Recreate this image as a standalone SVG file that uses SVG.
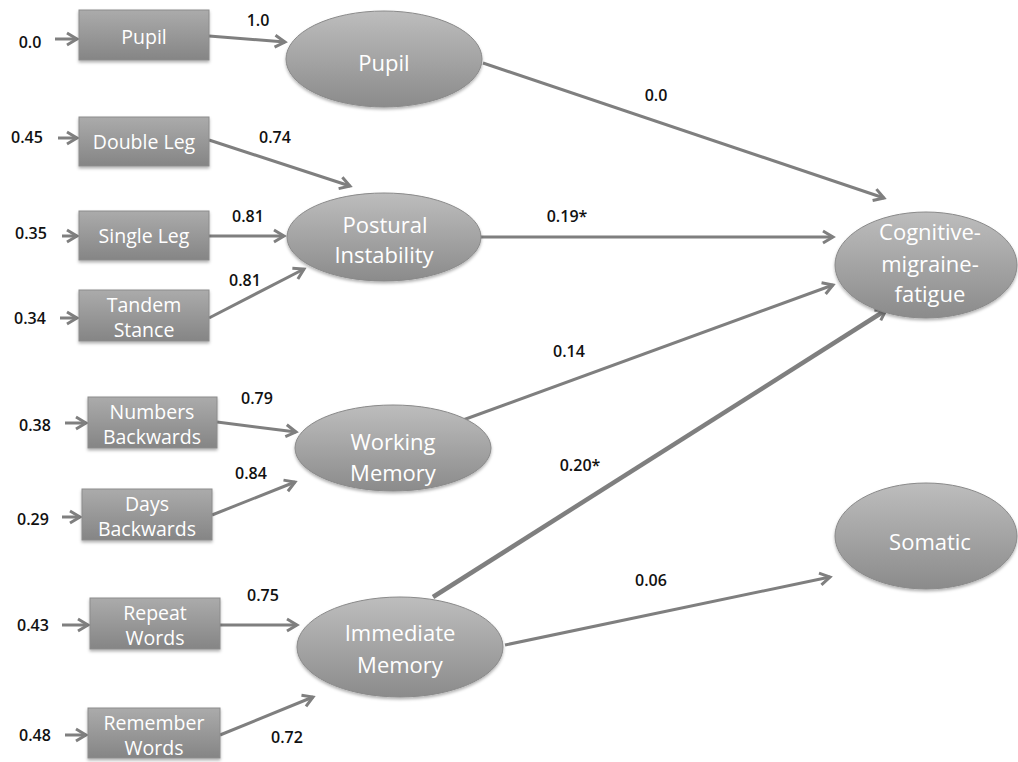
<svg xmlns="http://www.w3.org/2000/svg" width="1018" height="762" viewBox="0 0 1018 762">
<style>
.box{fill:url(#gb);stroke:#8c8c8c;stroke-width:1;filter:url(#sh)}
.ell{fill:url(#ge);stroke:#8a8a8a;stroke-width:1;filter:url(#sh)}
.bt{font-family:"Open Sans",sans-serif;font-size:19.5px;fill:#fff;text-anchor:middle}
.et{font-family:"Open Sans",sans-serif;font-size:22px;fill:#fff;text-anchor:middle}
.lb{font-family:"Open Sans",sans-serif;font-size:16px;fill:#111;text-anchor:middle;font-weight:600}
.c{stroke:#7f7f7f;stroke-width:3;fill:none;marker-end:url(#ah)}
</style>
<defs>
<linearGradient id="gb" x1="0" y1="0" x2="0" y2="1"><stop offset="0" stop-color="#ababab"/><stop offset="1" stop-color="#858585"/></linearGradient>
<linearGradient id="ge" x1="0" y1="0" x2="0" y2="1"><stop offset="0" stop-color="#bdbdbd"/><stop offset="1" stop-color="#8b8b8b"/></linearGradient>
<filter id="sh" x="-10%" y="-10%" width="120%" height="130%"><feDropShadow dx="0" dy="2" stdDeviation="1.5" flood-color="#000" flood-opacity="0.3"/></filter>
<marker id="ah" markerWidth="16" markerHeight="16" refX="13" refY="8" orient="auto" markerUnits="userSpaceOnUse"><path d="M3,2 L13,8 L3,14" fill="none" stroke="#7f7f7f" stroke-width="3" stroke-linejoin="miter"/></marker>
</defs>

<g id="connectors">
<line class="c" x1="55" y1="39" x2="77" y2="39"/>
<line class="c" x1="58" y1="138" x2="77" y2="138"/>
<line class="c" x1="62" y1="236" x2="77" y2="236"/>
<line class="c" x1="60" y1="318" x2="77" y2="318"/>
<line class="c" x1="65" y1="423" x2="86" y2="423"/>
<line class="c" x1="62" y1="517" x2="80" y2="517"/>
<line class="c" x1="62" y1="625" x2="88" y2="625"/>
<line class="c" x1="65" y1="735" x2="86" y2="735"/>

<line class="c" x1="209" y1="36" x2="285" y2="42"/>
<line class="c" x1="209" y1="140" x2="350" y2="186"/>
<line class="c" x1="209" y1="236" x2="284" y2="236"/>
<line class="c" x1="209" y1="318" x2="304" y2="269"/>
<line class="c" x1="217" y1="422" x2="296" y2="432"/>
<line class="c" x1="212" y1="515" x2="295" y2="482"/>
<line class="c" x1="220" y1="625" x2="297" y2="625"/>
<line class="c" x1="220" y1="735" x2="313" y2="697"/>

<line class="c" x1="483" y1="63" x2="884" y2="198"/>
<line class="c" x1="480" y1="237" x2="833" y2="237"/>
<line class="c" x1="463" y1="420" x2="833" y2="285"/>
<line class="c" x1="433" y1="597" x2="886" y2="310" style="stroke-width:4.5"/>
<line class="c" x1="505" y1="645" x2="830" y2="577"/>
</g>

<g id="labels">
<text class="lb" x="30" y="48">0.0</text>
<text class="lb" x="27" y="143">0.45</text>
<text class="lb" x="31" y="239">0.35</text>
<text class="lb" x="30" y="324">0.34</text>
<text class="lb" x="35" y="431">0.38</text>
<text class="lb" x="33" y="525">0.29</text>
<text class="lb" x="33" y="631">0.43</text>
<text class="lb" x="35" y="741">0.48</text>
<text class="lb" x="258" y="26">1.0</text>
<text class="lb" x="275" y="143">0.74</text>
<text class="lb" x="248" y="222">0.81</text>
<text class="lb" x="245" y="286">0.81</text>
<text class="lb" x="257" y="404">0.79</text>
<text class="lb" x="251" y="479">0.84</text>
<text class="lb" x="263" y="601">0.75</text>
<text class="lb" x="287" y="743">0.72</text>
<text class="lb" x="656" y="101">0.0</text>
<text class="lb" x="567" y="222">0.19*</text>
<text class="lb" x="569" y="357">0.14</text>
<text class="lb" x="580" y="471">0.20*</text>
<text class="lb" x="651" y="586">0.06</text>
</g>

<g id="box-pupil"><rect class="box" x="79" y="10" width="130" height="50"/><text class="bt" x="144" y="44">Pupil</text></g>
<g id="box-double-leg"><rect class="box" x="79" y="117" width="130" height="49"/><text class="bt" x="144" y="149">Double Leg</text></g>
<g id="box-single-leg"><rect class="box" x="79" y="211" width="130" height="49"/><text class="bt" x="144" y="243">Single Leg</text></g>
<g id="box-tandem"><rect class="box" x="79" y="290" width="130" height="51"/><text class="bt" x="144" y="312">Tandem</text><text class="bt" x="144" y="337">Stance</text></g>
<g id="box-numbers"><rect class="box" x="88" y="397" width="129" height="51"/><text class="bt" x="152" y="419">Numbers</text><text class="bt" x="152" y="444">Backwards</text></g>
<g id="box-days"><rect class="box" x="82" y="489" width="130" height="51"/><text class="bt" x="147" y="511">Days</text><text class="bt" x="147" y="536">Backwards</text></g>
<g id="box-repeat"><rect class="box" x="90" y="598" width="130" height="51"/><text class="bt" x="155" y="620">Repeat</text><text class="bt" x="155" y="645">Words</text></g>
<g id="box-remember"><rect class="box" x="88" y="708" width="132" height="50"/><text class="bt" x="154" y="730">Remember</text><text class="bt" x="154" y="755">Words</text></g>

<g id="ell-pupil"><ellipse class="ell" cx="384" cy="59" rx="98" ry="48"/><text class="et" x="384" y="71">Pupil</text></g>
<g id="ell-postural"><ellipse class="ell" cx="384" cy="237" rx="97" ry="44"/><text class="et" x="385" y="233">Postural</text><text class="et" x="384" y="263">Instability</text></g>
<g id="ell-cmf"><ellipse class="ell" cx="926" cy="265" rx="91" ry="53"/><text class="et" x="930" y="240">Cognitive-</text><text class="et" x="930" y="272">migraine-</text><text class="et" x="930" y="302">fatigue</text></g>
<g id="ell-working"><ellipse class="ell" cx="393" cy="448" rx="98" ry="43"/><text class="et" x="393" y="450">Working</text><text class="et" x="393" y="481">Memory</text></g>
<g id="ell-immediate"><ellipse class="ell" cx="400" cy="647" rx="103" ry="50"/><text class="et" x="400" y="641">Immediate</text><text class="et" x="400" y="673">Memory</text></g>
<g id="ell-somatic"><ellipse class="ell" cx="926" cy="536" rx="91" ry="53"/><text class="et" x="930" y="550">Somatic</text></g>
</svg>
